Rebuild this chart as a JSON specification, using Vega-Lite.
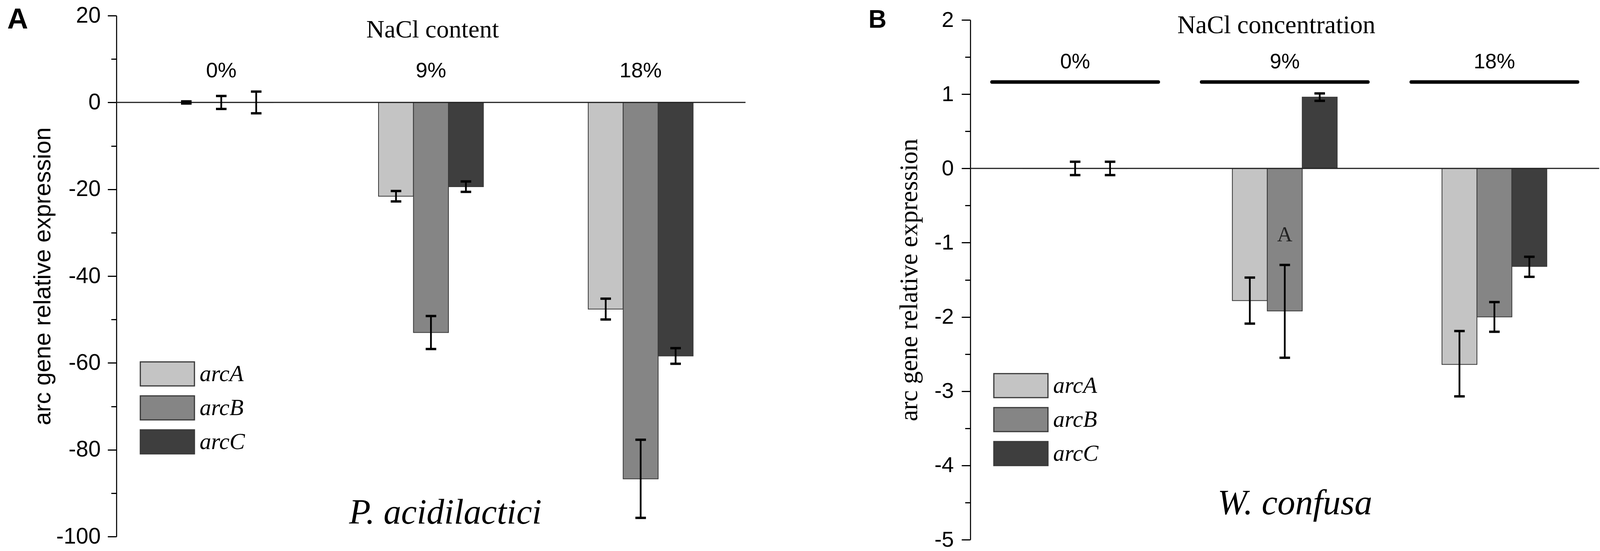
{
  "$schema": "https://vega.github.io/schema/vega-lite/v6.json",
  "background": "white",
  "width": 3796,
  "height": 1342,
  "padding": {"left": 18, "top": 11, "right": 7, "bottom": 0},
  "config": {"view": {"stroke": null}},
  "datasets": {
    "pacid": [
      {"group": "0%", "gene": "arcA", "value": 0, "lo": -0.25, "hi": 0.25},
      {"group": "0%", "gene": "arcB", "value": 0, "lo": -1.5, "hi": 1.5},
      {"group": "0%", "gene": "arcC", "value": 0, "lo": -2.5, "hi": 2.5},
      {"group": "9%", "gene": "arcA", "value": -21.6, "lo": -22.8, "hi": -20.4},
      {"group": "9%", "gene": "arcB", "value": -53.0, "lo": -56.8, "hi": -49.2},
      {"group": "9%", "gene": "arcC", "value": -19.4, "lo": -20.6, "hi": -18.2},
      {"group": "18%", "gene": "arcA", "value": -47.6, "lo": -50.0, "hi": -45.2},
      {"group": "18%", "gene": "arcB", "value": -86.7, "lo": -95.7, "hi": -77.7},
      {"group": "18%", "gene": "arcC", "value": -58.4, "lo": -60.2, "hi": -56.6}
    ],
    "wconf": [
      {"group": "0%", "gene": "arcA", "value": 0, "lo": null, "hi": null},
      {"group": "0%", "gene": "arcB", "value": 0, "lo": -0.09, "hi": 0.09},
      {"group": "0%", "gene": "arcC", "value": 0, "lo": -0.09, "hi": 0.09},
      {"group": "9%", "gene": "arcA", "value": -1.78, "lo": -2.09, "hi": -1.47},
      {"group": "9%", "gene": "arcB", "value": -1.92, "lo": -2.55, "hi": -1.3},
      {"group": "9%", "gene": "arcC", "value": 0.96, "lo": 0.91, "hi": 1.01},
      {"group": "18%", "gene": "arcA", "value": -2.64, "lo": -3.07, "hi": -2.19},
      {"group": "18%", "gene": "arcB", "value": -2.0, "lo": -2.2, "hi": -1.8},
      {"group": "18%", "gene": "arcC", "value": -1.32, "lo": -1.46, "hi": -1.19}
    ]
  },
  "resolve": {
    "scale": {"x": "independent", "y": "independent", "xOffset": "independent", "color": "independent"},
    "axis": {"x": "independent", "y": "independent"},
    "legend": {"color": "independent"}
  },
  "layer": [
    {
      "layer": [
        {
          "data": {"name": "pacid"},
          "mark": {"type": "bar", "stroke": "#383838", "strokeWidth": 2},
          "encoding": {
            "x": {"field": "group", "type": "nominal", "sort": null,
              "scale": {"domain": ["0%", "9%", "18%"], "range": [0, 1610.5], "paddingInner": 0.5, "paddingOuter": 0.25},
              "axis": {"orient": "top", "domain": false, "ticks": false, "grid": false, "labelAngle": 0,
                "labelFont": "Liberation Sans", "labelFontSize": 54, "labelColor": "black", "labelPadding": 0, "labelBaseline": "alphabetic",
                "offset": -157, "title": "NaCl content", "titleFont": "Liberation Serif", "titleFontSize": 64, "titleFontWeight": "normal",
                "titleColor": "black", "titleBaseline": "alphabetic", "titleAlign": "center", "titleX": 809, "titleY": -102}},
            "xOffset": {"field": "gene", "type": "nominal", "scale": {"domain": ["arcA", "arcB", "arcC"], "paddingInner": 0, "paddingOuter": 0}},
            "y": {"field": "value", "type": "quantitative",
              "scale": {"domain": [-100, 20], "range": [1334, 0], "nice": false, "zero": false},
              "axis": {"orient": "left", "values": [-100, -90, -80, -70, -60, -50, -40, -30, -20, -10, 0, 10, 20],
                "labelExpr": "datum.value % 20 === 0 ? toString(datum.value) : ''", "labelOverlap": false,
                "labelFont": "Liberation Sans", "labelFontSize": 57, "labelColor": "black", "labelPadding": 18,
                "tickSize": {"condition": {"test": "datum.value % 20 !== 0", "value": 13.5}, "value": 22.5},
                "tickColor": "black", "tickWidth": 3, "domainColor": "black", "domainWidth": 2.7, "grid": false,
                "title": "arc gene relative expression", "titleFont": "Liberation Sans", "titleFontSize": 61,
                "titleFontWeight": "normal", "titleColor": "black", "titlePadding": 2}},
            "color": {"field": "gene", "type": "nominal",
              "scale": {"domain": ["arcA", "arcB", "arcC"], "range": ["#c4c4c4", "#858585", "#3e3e3e"]},
              "legend": {"orient": "none", "legendX": 98, "legendY": 885, "title": null, "padding": 0,
                "symbolType": "M-2.25,-1H2.25V1H-2.25Z", "symbolSize": 3795, "symbolStrokeColor": "#3a3a3a", "symbolStrokeWidth": 3, "symbolOpacity": 1,
                "labelFont": "Liberation Serif", "labelFontStyle": "italic", "labelFontSize": 59, "labelColor": "black", "labelOffset": 50, "rowPadding": 12}}
          }
        },
        {
          "data": {"values": [{"zero": 0}]},
          "mark": {"type": "rule", "color": "#222222", "strokeWidth": 3},
          "encoding": {
            "x": {"datum": "0%", "type": "nominal", "bandPosition": -0.5},
            "x2": {"datum": "18%", "bandPosition": 1.5},
            "y": {"field": "zero", "type": "quantitative"}
          }
        },
        {
          "data": {"name": "pacid"},
          "mark": {"type": "rule", "color": "black", "strokeWidth": 4.5},
          "encoding": {
            "x": {"field": "group", "type": "nominal"},
            "xOffset": {"field": "gene", "type": "nominal"},
            "y": {"field": "lo", "type": "quantitative"},
            "y2": {"field": "hi"}
          }
        },
        {
          "data": {"name": "pacid"},
          "mark": {"type": "tick", "orient": "horizontal", "color": "black", "size": 27, "thickness": 6, "opacity": 1},
          "encoding": {
            "x": {"field": "group", "type": "nominal"},
            "xOffset": {"field": "gene", "type": "nominal"},
            "y": {"field": "lo", "type": "quantitative"}
          }
        },
        {
          "data": {"name": "pacid"},
          "mark": {"type": "tick", "orient": "horizontal", "color": "black", "size": 27, "thickness": 6, "opacity": 1},
          "encoding": {
            "x": {"field": "group", "type": "nominal"},
            "xOffset": {"field": "gene", "type": "nominal"},
            "y": {"field": "hi", "type": "quantitative"}
          }
        },
        {
          "data": {"values": [{"group": "9%", "species": "P. acidilactici", "pos": -97}]},
          "mark": {"type": "text", "font": "Liberation Serif", "fontStyle": "italic", "fontSize": 90, "color": "black", "baseline": "alphabetic", "align": "center", "dx": 37},
          "encoding": {
            "x": {"field": "group", "type": "nominal"},
            "y": {"field": "pos", "type": "quantitative"},
            "text": {"field": "species"}
          }
        },
        {
          "data": {"values": [{"group": "0%", "letter": "A", "pos": 20}]},
          "mark": {"type": "text", "font": "Liberation Sans", "fontSize": 74, "fontWeight": "bold", "color": "black", "align": "left", "baseline": "alphabetic", "dx": -548, "dy": 33},
          "encoding": {
            "x": {"field": "group", "type": "nominal"},
            "y": {"field": "pos", "type": "quantitative"},
            "text": {"field": "letter"}
          }
        }
      ]
    },
    {
      "layer": [
        {
          "data": {"name": "wconf"},
          "mark": {"type": "bar", "stroke": "#383838", "strokeWidth": 2},
          "encoding": {
            "x": {"field": "group", "type": "nominal", "sort": null,
              "scale": {"domain": ["0%", "9%", "18%"], "range": [2186, 3796], "paddingInner": 0.19, "paddingOuter": 0.095},
              "axis": {"orient": "top", "domain": false, "ticks": false, "grid": false, "labelAngle": 0,
                "labelFont": "Liberation Sans", "labelFontSize": 53, "labelColor": "black", "labelPadding": 0, "labelBaseline": "alphabetic",
                "offset": -134, "title": "NaCl concentration", "titleFont": "Liberation Serif", "titleFontSize": 65, "titleFontWeight": "normal",
                "titleColor": "black", "titleBaseline": "alphabetic", "titleAlign": "center", "titleX": 2969, "titleY": -90}},
            "xOffset": {"field": "gene", "type": "nominal", "scale": {"domain": ["arcA", "arcB", "arcC"], "paddingInner": 0, "paddingOuter": 0.93}},
            "y": {"field": "value", "type": "quantitative",
              "scale": {"domain": [-5, 2], "range": [1342, 11], "nice": false, "zero": false},
              "axis": {"orient": "left", "offset": -2186, "values": [-5, -4.5, -4, -3.5, -3, -2.5, -2, -1.5, -1, -0.5, 0, 0.5, 1, 1.5, 2],
                "labelExpr": "datum.value % 1 === 0 ? toString(datum.value) : ''", "labelOverlap": false,
                "labelFont": "Liberation Sans", "labelFontSize": 56, "labelColor": "black", "labelPadding": 20,
                "tickSize": {"condition": {"test": "datum.value % 1 !== 0", "value": 13.5}, "value": 22.5},
                "tickColor": "black", "tickWidth": 3, "domainColor": "black", "domainWidth": 2.7, "grid": false,
                "title": "arc gene relative expression", "titleFont": "Liberation Serif", "titleFontSize": 65,
                "titleFontWeight": "normal", "titleColor": "black", "titlePadding": 30}},
            "color": {"field": "gene", "type": "nominal",
              "scale": {"domain": ["arcA", "arcB", "arcC"], "range": ["#c4c4c4", "#858585", "#3e3e3e"]},
              "legend": {"orient": "none", "legendX": 2283, "legendY": 915, "title": null, "padding": 0,
                "symbolType": "M-2.25,-1H2.25V1H-2.25Z", "symbolSize": 3795, "symbolStrokeColor": "#3a3a3a", "symbolStrokeWidth": 3, "symbolOpacity": 1,
                "labelFont": "Liberation Serif", "labelFontStyle": "italic", "labelFontSize": 59, "labelColor": "black", "labelOffset": 50, "rowPadding": 12}}
          }
        },
        {
          "data": {"values": [{"zero": 0}]},
          "mark": {"type": "rule", "color": "#222222", "strokeWidth": 3},
          "encoding": {
            "x": {"datum": "0%", "type": "nominal", "bandPosition": -0.117},
            "x2": {"datum": "18%", "bandPosition": 1.117},
            "y": {"field": "zero", "type": "quantitative"}
          }
        },
        {
          "data": {"values": [{"group": "0%"}, {"group": "9%"}, {"group": "18%"}]},
          "mark": {"type": "bar", "color": "black", "cornerRadius": 4},
          "encoding": {
            "x": {"field": "group", "type": "nominal"},
            "y": {"datum": 1.187},
            "y2": {"datum": 1.14}
          }
        },
        {
          "data": {"name": "wconf"},
          "mark": {"type": "rule", "color": "black", "strokeWidth": 4.5},
          "encoding": {
            "x": {"field": "group", "type": "nominal"},
            "xOffset": {"field": "gene", "type": "nominal"},
            "y": {"field": "lo", "type": "quantitative"},
            "y2": {"field": "hi"}
          }
        },
        {
          "data": {"name": "wconf"},
          "mark": {"type": "tick", "orient": "horizontal", "color": "black", "size": 27, "thickness": 6, "opacity": 1},
          "encoding": {
            "x": {"field": "group", "type": "nominal"},
            "xOffset": {"field": "gene", "type": "nominal"},
            "y": {"field": "lo", "type": "quantitative"}
          }
        },
        {
          "data": {"name": "wconf"},
          "mark": {"type": "tick", "orient": "horizontal", "color": "black", "size": 27, "thickness": 6, "opacity": 1},
          "encoding": {
            "x": {"field": "group", "type": "nominal"},
            "xOffset": {"field": "gene", "type": "nominal"},
            "y": {"field": "hi", "type": "quantitative"}
          }
        },
        {
          "data": {"values": [{"group": "9%", "gene": "arcB", "sig": "A", "pos": -0.9}]},
          "mark": {"type": "text", "font": "Liberation Serif", "fontSize": 54, "color": "#222222", "baseline": "middle", "align": "center"},
          "encoding": {
            "x": {"field": "group", "type": "nominal"},
            "xOffset": {"field": "gene", "type": "nominal"},
            "y": {"field": "pos", "type": "quantitative"},
            "text": {"field": "sig"}
          }
        },
        {
          "data": {"values": [{"group": "9%", "species": "W. confusa", "pos": -4.66}]},
          "mark": {"type": "text", "font": "Liberation Serif", "fontStyle": "italic", "fontSize": 91, "color": "black", "baseline": "alphabetic", "align": "center", "dx": 26},
          "encoding": {
            "x": {"field": "group", "type": "nominal"},
            "y": {"field": "pos", "type": "quantitative"},
            "text": {"field": "species"}
          }
        },
        {
          "data": {"values": [{"group": "0%", "letter": "B", "pos": 2}]},
          "mark": {"type": "text", "font": "Liberation Sans", "fontSize": 64, "fontWeight": "bold", "color": "black", "align": "left", "baseline": "alphabetic", "dx": -529, "dy": 20},
          "encoding": {
            "x": {"field": "group", "type": "nominal"},
            "y": {"field": "pos", "type": "quantitative"},
            "text": {"field": "letter"}
          }
        }
      ]
    }
  ]
}
